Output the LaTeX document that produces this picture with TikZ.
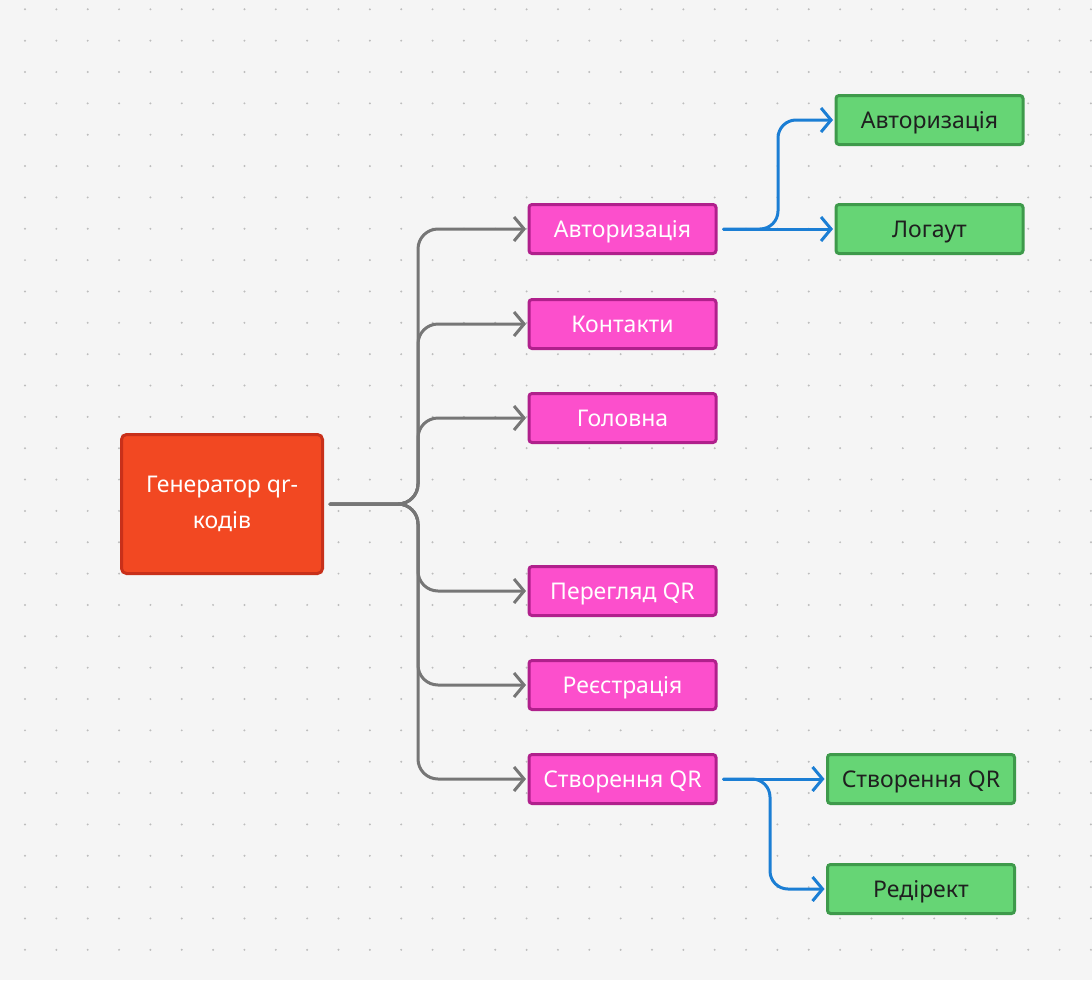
\documentclass[tikz,border=0pt]{standalone}
\usepackage{fontspec}
\setmainfont{Noto Sans}
\usepackage{tikz}
\usepackage{xcolor}
\usetikzlibrary{arrows.meta,positioning,calc}
\definecolor{paper}{HTML}{F5F5F5}
\definecolor{dotgrey}{HTML}{BDBDBD}
\definecolor{rootred}{HTML}{F24822}
\definecolor{rootedge}{HTML}{C8301A}
\definecolor{pagepink}{HTML}{FC4FCC}
\definecolor{pageedge}{HTML}{B0208C}
\definecolor{leafgreen}{HTML}{66D575}
\definecolor{leafedge}{HTML}{3E9A4B}
\definecolor{linkgrey}{HTML}{767676}
\definecolor{linkblue}{HTML}{1B7ED4}

\tikzset{
    rootbox/.style={draw=rootedge, fill=rootred, line width=3pt, rounded corners=5pt,
        minimum width=201pt, minimum height=139pt, text=white, align=center,
        font=\fontsize{23}{36}\selectfont},
    pagebox/.style={draw=pageedge, fill=pagepink, line width=3pt, rounded corners=3pt,
        minimum width=187pt, minimum height=49pt, text=white,
        text height=18pt, text depth=2pt,
        font=\fontsize{23}{27}\selectfont},
    leafbox/.style={draw=leafedge, fill=leafgreen, line width=3pt, rounded corners=3pt,
        minimum width=187pt, minimum height=49pt, text=black!88,
        text height=18pt, text depth=2pt,
        font=\fontsize{23}{27}\selectfont},
    greylink/.style={draw=linkgrey, line width=3pt, rounded corners=20pt, line cap=round,
        -{Straight Barb[length=10pt,width=24pt]}, shorten <=6pt},
    bluelink/.style={draw=linkblue, line width=3pt, rounded corners=18pt, line cap=round,
        -{Straight Barb[length=10pt,width=24pt]}, shorten <=6pt}
}

\begin{document}
\begin{tikzpicture}[x=1pt, y=-1pt]
    % Canvas
    \fill[paper] (0,0) rectangle (1092,980);
    \useasboundingbox (0,0) rectangle (1092,980);

    % Dot grid
    \foreach \i in {0,...,34} {
        \foreach \j in {0,...,30} {
            \fill[dotgrey] ({25+31.35*\i},{9.3+31.35*\j}) circle (1.1);
        }
    }

    % Root
    \node[rootbox] (root) at (222,504) {Генератор qr-\\кодів};

    % Pages
    \node[pagebox] (auth)     at (622.5,229) {Авторизація};
    \node[pagebox] (contacts) at (622.5,324) {Контакти};
    \node[pagebox] (home)     at (622.5,418) {Головна};
    \node[pagebox] (viewqr)   at (622.5,591) {Перегляд QR};
    \node[pagebox] (signup)   at (622.5,685) {Реєстрація};
    \node[pagebox] (makeqr)   at (622.5,779) {Створення QR};

    % Leaves
    \node[leafbox] (login)    at (929.5,120) {Авторизація};
    \node[leafbox] (logout)   at (929.5,229) {Логаут};
    \node[leafbox] (create)   at (921,779) {Створення QR};
    \node[leafbox] (redirect) at (921,889) {Редірект};

    % Trunk and branch points
    \coordinate (trunk) at (418,504);
    \coordinate (forkA) at (778,229);
    \coordinate (forkB) at (770,779);

    % Root to pages
    \foreach \p in {auth,contacts,home,viewqr,signup,makeqr} {
        \draw[greylink] (root.east) -- (trunk) |- ([xshift=-1.5pt]\p.west);
    }

    % Pages to leaves
    \draw[bluelink] (auth.east) -- (forkA) |- ([xshift=-1.5pt]login.west);
    \draw[bluelink] (auth.east) -- ([xshift=-1.5pt]logout.west);
    \draw[bluelink] (makeqr.east) -- ([xshift=-1.5pt]create.west);
    \draw[bluelink] (makeqr.east) -- (forkB) |- ([xshift=-1.5pt]redirect.west);

\end{tikzpicture}
\end{document}
